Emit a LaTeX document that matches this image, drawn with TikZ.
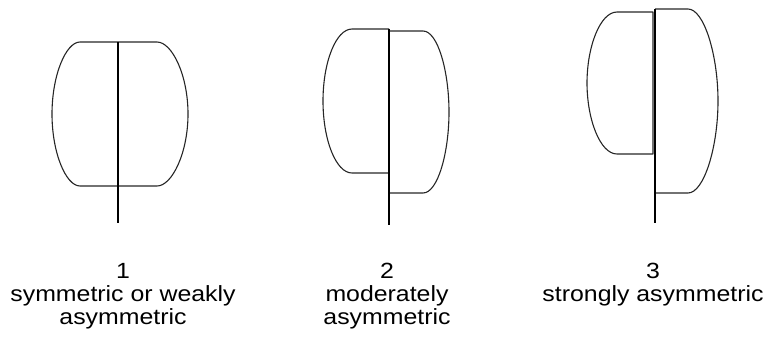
\documentclass[tikz,border=0pt]{standalone}
\usepackage{fontspec}
\newfontfamily\lab[FakeStretch=1.13]{Liberation Sans}
\tikzset{
  outline/.style={draw=black!85, line width=1.1pt, line join=round},
  stem/.style={draw=black, line width=1.2pt},
  lbl/.style={anchor=base, inner sep=0pt, font=\lab\fontsize{22}{23}\selectfont}
}
\begin{document}
\begin{tikzpicture}[x=1pt,y=-1pt]
\useasboundingbox (0,0) rectangle (767,341);
% shape 1
\draw[outline] (80,42) -- (157,42) .. controls (172,42) and (188,75) .. (188,114)
  .. controls (188,153) and (172,186) .. (157,186) -- (80,186)
  .. controls (66,186) and (52,153) .. (52,114)
  .. controls (52,75) and (66,42) .. (80,42) -- cycle;
\coordinate (s1top) at (118,42);
\coordinate (s1bot) at (118,223);
\draw[stem] (s1top) -- (s1bot);
% shape 2
\draw[outline] (389,29) -- (352,29) .. controls (336,29) and (323,62) .. (323,101)
  .. controls (323,140) and (336,173) .. (352,173) -- (389,173);
\draw[outline] (389,31) -- (423,31) .. controls (438,31) and (449,72) .. (449,112)
  .. controls (449,152) and (438,193) .. (423,193) -- (389,193);
\coordinate (s2top) at (389,29);
\coordinate (s2bot) at (389,225);
\draw[stem] (s2top) -- (s2bot);
% shape 3
\draw[outline] (653,12) -- (617,12) .. controls (600,12) and (587,47) .. (587,83)
  .. controls (587,119) and (600,154) .. (617,154) -- (653,154) -- cycle;
\draw[outline] (655,9) -- (688,9) .. controls (704,9) and (718,55) .. (718,101)
  .. controls (718,147) and (704,193) .. (688,193) -- (655,193);
\coordinate (s3top) at (655,9);
\coordinate (s3bot) at (655,223);
\draw[stem] (s3top) -- (s3bot);
% labels
\node[lbl] (n1) at (123,278) {1};
\node[lbl] (t1a) at (123,301) {symmetric or weakly};
\node[lbl] (t1b) at (123,324) {asymmetric};
\node[lbl] (n2) at (387,278) {2};
\node[lbl] (t2a) at (387,301) {moderately};
\node[lbl] (t2b) at (387,324) {asymmetric};
\node[lbl] (n3) at (653,278) {3};
\node[lbl] (t3a) at (653,301) {strongly asymmetric};
\end{tikzpicture}
\end{document}
